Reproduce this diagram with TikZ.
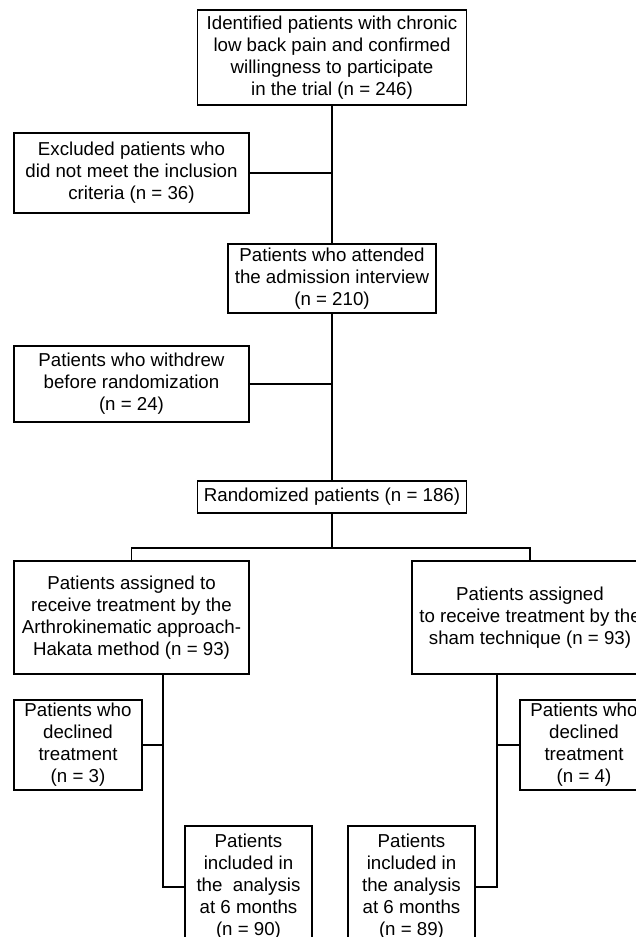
\documentclass[tikz,border=0pt]{standalone}
\usepackage{fontspec}
\setmainfont{Liberation Sans}
\usetikzlibrary{positioning}

\begin{document}
\begin{tikzpicture}[x=1pt, y=-1pt,
    box/.style={draw, line width=1.1pt, align=center, inner sep=0pt,
      font=\fontsize{18.7}{22}\selectfont},
    link/.style={line width=1.1pt}]
        \useasboundingbox (0,0) rectangle (636,937);
        \clip (0,0) rectangle (636,937);

        \node[box, minimum width=269pt, minimum height=95pt] (ident) at (332,57.5)
            {Identified patients with chronic\\low back pain and confirmed\\willingness to participate\\in the trial (n = 246)};
        \node[box, minimum width=235pt, minimum height=80pt] (excl) at (131.5,173)
            {Excluded patients who\\did not meet the inclusion\\criteria (n = 36)};
        \node[box, minimum width=208pt, minimum height=69pt] (attend) at (332,278.5)
            {Patients who attended\\the admission interview\\(n = 210)};
        \node[box, minimum width=235pt, minimum height=76pt] (withdr) at (131.5,384)
            {Patients who withdrew\\before randomization\\(n = 24)};
        \node[box, minimum width=269pt, minimum height=32pt] (rand) at (332,497)
            {Randomized patients (n = 186)};
        \node[box, minimum width=235pt, minimum height=113pt] (armA) at (131.5,617.5)
            {Patients assigned to\\receive treatment by the\\Arthrokinematic approach-\\Hakata method (n = 93)};
        \node[box, minimum width=236pt, minimum height=113pt] (armB) at (530,617.5)
            {Patients assigned\\to receive treatment by the\\sham technique (n = 93)};
        \node[box, minimum width=128pt, minimum height=90pt] (declA) at (78,745)
            {Patients who\\declined\\treatment\\(n = 3)};
        \node[box, minimum width=128pt, minimum height=90pt] (declB) at (584,745)
            {Patients who\\declined\\treatment\\(n = 4)};
        \node[box, minimum width=127pt, minimum height=122pt] (finA) at (248.5,887)
            {Patients\\included in\\the\ \ analysis\\at 6 months\\(n = 90)};
        \node[box, minimum width=127pt, minimum height=122pt] (finB) at (411.5,887)
            {Patients\\included in\\the analysis\\at 6 months\\(n = 89)};

        \coordinate (split) at (332,548);
        \coordinate (jA) at (163,887);
        \coordinate (jB) at (497,887);

        \draw[link] (ident) -- (attend);
        \draw[link] (excl.east) -- (excl.east -| ident.south);
        \draw[link] (attend) -- (rand);
        \draw[link] (withdr.east) -- (withdr.east -| attend.south);
        \draw[link] (rand) -- (split);
        \draw[link] (armA.north) |- (split) -| (armB.north);
        \draw[link] (armA.south -| jA) -- (jA) -- (finA.west);
        \draw[link] (declA.east) -- (declA.east -| jA);
        \draw[link] (armB.south -| jB) -- (jB) -- (finB.east);
        \draw[link] (declB.west) -- (declB.west -| jB);
\end{tikzpicture}
\end{document}
